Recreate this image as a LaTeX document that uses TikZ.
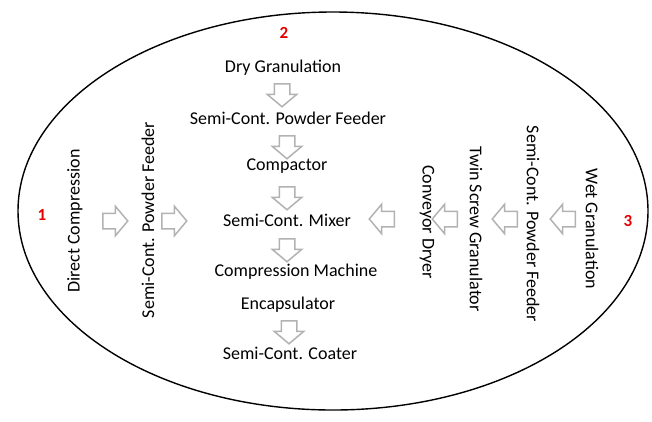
\documentclass[tikz,border=0pt]{standalone}
\usepackage{fontspec}
\setmainfont{Carlito}
\usetikzlibrary{shapes.arrows}
\tikzset{
  lbl/.style={font=\fontsize{18}{20}\selectfont, text=black, inner sep=0pt},
  num/.style={font=\fontsize{17}{19}\selectfont\bfseries, text=red!90!black, inner sep=0pt},
  blk/.style={single arrow, draw=black!30, fill=white, line width=1.5pt,
    minimum height=23pt, single arrow head extend=7pt, inner sep=7pt,
    single arrow tip angle=100, anchor=center},
  down/.style={blk, shape border rotate=270},
  rightarr/.style={blk, shape border rotate=0, minimum height=25pt},
  leftarr/.style={blk, shape border rotate=180, minimum height=25pt}
}
\begin{document}
\begin{tikzpicture}[x=1pt,y=-1pt]
\useasboundingbox (0,0) rectangle (652,421);
\draw[line width=1.4pt] (333,211) ellipse [x radius=315, y radius=199];
% center column
\node[num] (n2) at (284,33) {2};
\node[lbl] (dg) at (283,68) {Dry Granulation};
\node[down] (a1) at (282,92) {};
\node[lbl] (pf) at (288,118) {Semi-Cont. Powder Feeder};
\node[down] (a2) at (287,144) {};
\node[lbl] (cp) at (287,166) {Compactor};
\node[down] (a3) at (287,195) {};
\node[lbl] (mx) at (287,220) {Semi-Cont. Mixer};
\node[down] (a4) at (287,247) {};
\node[lbl] (cm) at (296,272) {Compression Machine};
\node[lbl] (en) at (288,305) {Encapsulator};
\node[down] (a5) at (289,329) {};
\node[lbl] (co) at (290,353) {Semi-Cont. Coater};
% left
\node[num] (n1) at (42,215) {1};
\node[lbl, rotate=90] (dc) at (75,221) {Direct Compression};
\node[rightarr] (l1) at (112,221) {};
\node[lbl, rotate=90] (lpf) at (148,220) {Semi-Cont. Powder Feeder};
\node[rightarr] (l2) at (171,221) {};
% right
\node[leftarr] (r1) at (385,219) {};
\node[lbl, rotate=-90] (cd) at (427,222) {Conveyor Dryer};
\node[leftarr] (r2) at (448,219) {};
\node[lbl, rotate=-90] (tsg) at (476,229) {Twin Screw Granulator};
\node[leftarr] (r3) at (508,219) {};
\node[lbl, rotate=-90] (rpf) at (533,224) {Semi-Cont. Powder Feeder};
\node[leftarr] (r4) at (566,219) {};
\node[lbl, rotate=-90] (wg) at (592,229) {Wet Granulation};
\node[num] (n3) at (628,221) {3};
\end{tikzpicture}
\end{document}
